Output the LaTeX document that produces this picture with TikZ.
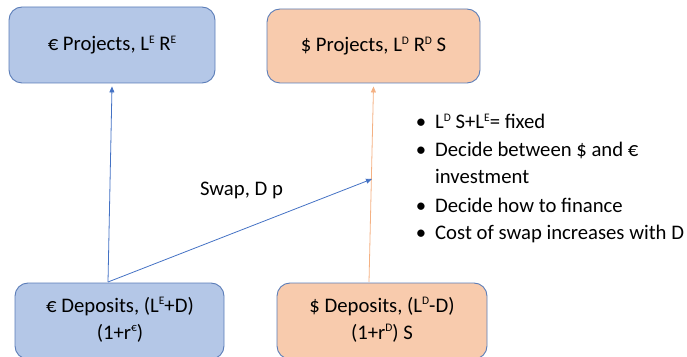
\documentclass[tikz,border=0pt]{standalone}
\usepackage{fontspec}
\setmainfont{Carlito}
\usetikzlibrary{arrows.meta}
\definecolor{bfill}{HTML}{B4C7E7}
\definecolor{ofill}{HTML}{F8CBAD}
\definecolor{edge}{HTML}{5B7DB8}
\definecolor{bline}{HTML}{4472C4}
\definecolor{oline}{HTML}{F4B183}
\newcommand\supx[1]{\raisebox{7.5pt}{\fontsize{11.5}{11.5}\selectfont #1}}
\tikzset{
  box/.style={draw=edge, line width=0.9pt, rounded corners=13pt, align=center,
    inner sep=0pt, font=\fontsize{20.7}{27}\selectfont},
  bluebox/.style={box, fill=bfill},
  orangebox/.style={box, fill=ofill},
  txt/.style={font=\fontsize{20.7}{27.8}\selectfont, inner sep=0pt},
  bluearrow/.style={draw=bline, line width=0.8pt, -{Triangle[length=6pt,width=5pt]}},
  orangearrow/.style={draw=oline, line width=0.8pt, -{Triangle[length=6pt,width=5pt]}}
}
\begin{document}
\begin{tikzpicture}[x=1pt,y=1pt]
\useasboundingbox (0,0) rectangle (687,356);
\node[bluebox, minimum width=206pt, minimum height=76pt] (pE) at (112,311)
  {€ Projects, L\supx{E} R\supx{E}};
\node[orangebox, minimum width=213pt, minimum height=74pt] (pD) at (373.5,310)
  {\$ Projects, L\supx{D} R\supx{D} S};
\node[bluebox, minimum width=209pt, minimum height=76pt, text depth=0pt] (dE) at (119.5,35)
  {};
\node[orangebox, minimum width=210pt, minimum height=76pt] (dD) at (382,35)
  {};
\node[txt, anchor=base] (dEt1) at (120,44) {€ Deposits, (L\supx{E}+D)};
\node[txt, anchor=base] (dEt2) at (120,17) {(1+r\supx{€})};
\node[txt, anchor=base] (dDt1) at (382,44) {\$ Deposits, (L\supx{D}-D)};
\node[txt, anchor=base] (dDt2) at (382,17) {(1+r\supx{D}) S};
\coordinate (s1) at (108,74);
\coordinate (s2) at (369,74);
\coordinate (sw) at (372,177);
\draw[bluearrow] (s1) -- ([xshift=0pt,yshift=-3pt]pE.south);
\draw[orangearrow] (s2) -- ([yshift=-3pt]pD.south);
\draw[blueline/.style={}, bluearrow] (s1) -- (sw);
\node[txt, anchor=base] (swl) at (241.5,160) {Swap, D p};
\foreach \y/\n in {227/b1,199/b2,143/b3,116/b4}
  \node[txt, anchor=base] (\n) at (421,\y) {\textbullet};
\node[txt, anchor=base west] (l1) at (435,227) {L\supx{D} S+L\supx{E}= fixed};
\node[txt, anchor=base west] (l2) at (435,199) {Decide between \$ and €};
\node[txt, anchor=base west] (l3) at (435,172) {investment};
\node[txt, anchor=base west] (l4) at (435,143) {Decide how to finance};
\node[txt, anchor=base west] (l5) at (435,116) {Cost of swap increases with D};
\end{tikzpicture}
\end{document}
